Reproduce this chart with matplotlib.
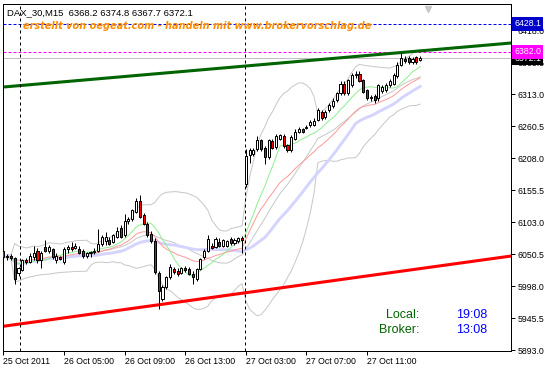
import numpy as np
import pandas as pd
import matplotlib
matplotlib.use("Agg")
import matplotlib.pyplot as plt
from matplotlib.transforms import blended_transform_factory

# DAX_30 M15 candles, 25 Oct 15:00 .. 27 Oct 13:00 (broker time)
opens = [6056, 6045, 6048, 6044, 6020, 6025, 6040, 6037, 6046, 6056,
         6040, 6062, 6056, 6058, 6040, 6045, 6038, 6058, 6062, 6060,
         6059, 6056, 6048, 6052, 6054, 6056, 6067, 6072, 6074, 6070,
         6078, 6094, 6081, 6105, 6108, 6120, 6138, 6114, 6100, 6083,
         6072, 6019, 5977, 5996, 6012, 6026, 6023, 6020, 6027, 6026,
         6018, 6010, 6026, 6045, 6056, 6064, 6062, 6070, 6064, 6064,
         6075, 6069, 6072, 6077,
         6166, 6213, 6215, 6223, 6237, 6225, 6210, 6236, 6226, 6240,
         6244, 6229, 6221, 6240, 6251, 6255, 6257, 6262, 6262, 6270,
         6284, 6275, 6286, 6293, 6303, 6314, 6330, 6314, 6328, 6344,
         6346, 6336, 6320, 6306, 6310, 6306, 6318, 6320, 6328, 6330,
         6342, 6361, 6370, 6372, 6365, 6373, 6368.2]
highs = [6060, 6050, 6050, 6046, 6030, 6043, 6044, 6052, 6064, 6060,
         6056, 6074, 6066, 6060, 6052, 6048, 6062, 6066, 6070, 6068,
         6064, 6058, 6054, 6056, 6060, 6092, 6082, 6086, 6078, 6084,
         6095, 6098, 6116, 6112, 6125, 6142, 6148, 6117, 6103, 6088,
         6076, 6022, 5999, 6014, 6034, 6030, 6027, 6030, 6031, 6029,
         6022, 6028, 6044, 6058, 6081, 6068, 6078, 6076, 6075, 6074,
         6078, 6077, 6078, 6080,
         6223, 6225, 6224, 6244, 6240, 6228, 6240, 6240, 6248, 6248,
         6247, 6231, 6245, 6256, 6259, 6258, 6262, 6270, 6273, 6290,
         6287, 6287, 6298, 6306, 6317, 6334, 6335, 6338, 6347, 6350,
         6350, 6338, 6322, 6312, 6313, 6330, 6328, 6331, 6337, 6347,
         6365, 6380, 6375, 6375, 6374, 6376, 6374.8]
lows = [6042, 6041, 6040, 6001, 6015, 6022, 6034, 6035, 6040, 6036,
        6027, 6054, 6052, 6042, 6036, 6040, 6034, 6052, 6055, 6058,
        6050, 6044, 6044, 6046, 6050, 6054, 6064, 6066, 6065, 6068,
        6076, 6076, 6078, 6100, 6104, 6117, 6109, 6098, 6079, 6068,
        6018, 5960, 5974, 5993, 6009, 6017, 6015, 6017, 6021, 6016,
        6001, 6006, 6024, 6043, 6054, 6058, 6060, 6062, 6062, 6062,
        6066, 6066, 6068, 6053,
        6160, 6200, 6212, 6220, 6220, 6199, 6207, 6222, 6222, 6237,
        6225, 6218, 6218, 6238, 6249, 6249, 6255, 6259, 6260, 6268,
        6270, 6272, 6283, 6290, 6300, 6311, 6311, 6312, 6325, 6340,
        6333, 6314, 6303, 6302, 6298, 6302, 6314, 6317, 6325, 6328,
        6340, 6359, 6364, 6362, 6363, 6363, 6367.7]
closes = [6045, 6048, 6044, 6010, 6027, 6040, 6037, 6048, 6052, 6040,
          6053, 6056, 6062, 6045, 6048, 6042, 6059, 6062, 6059, 6064,
          6053, 6048, 6052, 6054, 6056, 6067, 6078, 6078, 6067, 6081,
          6089, 6079, 6105, 6108, 6122, 6138, 6112, 6100, 6082, 6072,
          6021, 5990, 5996, 6012, 6030, 6021, 6018, 6028, 6024, 6018,
          6012, 6026, 6042, 6056, 6075, 6061, 6075, 6064, 6073, 6072,
          6069, 6073, 6076, 6073,
          6212, 6221, 6221, 6237, 6223, 6210, 6237, 6225, 6244, 6245,
          6227, 6221, 6242, 6251, 6256, 6251, 6259, 6267, 6269, 6286,
          6273, 6284, 6295, 6302, 6314, 6330, 6314, 6336, 6344, 6346,
          6335, 6317, 6306, 6308, 6304, 6327, 6325, 6328, 6334, 6344,
          6361, 6372, 6368, 6365, 6371, 6365, 6372.1]

time_ticks = [0, 16, 32, 48, 64, 80, 96]
time_labels = ["25 Oct 2011", "26 Oct 05:00", "26 Oct 09:00", "26 Oct 13:00",
               "27 Oct 03:00", "27 Oct 07:00", "27 Oct 11:00"]
day_breaks = [4.4, 63.75]
price_ticks = [5893.0, 5945.5, 5998.0, 6050.5, 6103.0, 6155.5, 6208.0,
               6260.5, 6313.0, 6365.5, 6418.0]

# trend lines (bar, price)
green_trend = ([0, 134], [6324.5, 6396.7])
red_trend = ([0, 134], [5932.0, 6047.2])
blue_level = 6428.1
magenta_level = 6382.0
bid = 6372.1
shift_bar = 112

o = np.array(opens, float)
h = np.array(highs, float)
l = np.array(lows, float)
c = np.array(closes, float)
x = np.arange(len(c))

s = pd.Series(c)
ma_fast = s.rolling(10, min_periods=1).mean()
ma_mid = s.ewm(span=20, adjust=False).mean()
ma_slow = s.rolling(30, min_periods=1).mean()
bb_mid = s.rolling(20, min_periods=1).mean()
bb_std = s.rolling(20, min_periods=2).std(ddof=0)
bb_up = bb_mid + 2 * bb_std
bb_lo = bb_mid - 2 * bb_std

fig = plt.figure(figsize=(5.52, 3.72), dpi=100)
ax = fig.add_axes([3 / 552, 21 / 372, 508 / 552, 347 / 372])
ax.set_xlim(-0.1, 134)
ax.set_ylim(5891.4, 6460.7)

px = 0.72
# indicators
ax.plot(x, bb_up, color="#c8c8c8", lw=px, zorder=1)
ax.plot(x, bb_lo, color="#c8c8c8", lw=px, zorder=1)
ax.plot(x, bb_mid, color="#c8c8c8", lw=px, zorder=1)
ax.plot(x, ma_slow, color="#d4d4ff", lw=2.1, zorder=1)
ax.plot(x, ma_mid, color="#ff9a9a", lw=px, zorder=1.5)
ax.plot(x, ma_fast, color="#90ee90", lw=px, zorder=1.5)

# levels and trend lines
ax.axhline(blue_level, color="#0000ff", lw=px, ls=(0, (3, 2)), zorder=2)
ax.axhline(magenta_level, color="#ff00ff", lw=px, ls=(0, (3, 2)), zorder=2)
ax.axhline(bid, color="#c0c0c0", lw=px, zorder=2)
ax.plot(*green_trend, color="#006400", lw=2.2, zorder=2)
ax.plot(*red_trend, color="#ff0000", lw=2.2, zorder=2)
for d in day_breaks:
    ax.axvline(d, color="black", lw=px, ls=(0, (3, 3)), zorder=2)

# candles
up = c >= o
ax.vlines(x, l, h, color="black", lw=px, zorder=3)
ax.bar(x, np.maximum(np.abs(c - o), 0.6), bottom=np.minimum(o, c), width=0.55,
       color=np.where(up, "white", "red"), edgecolor="black", linewidth=px, zorder=4)

# axes styling
for sp in ax.spines.values():
    sp.set_linewidth(px)
ax.yaxis.tick_right()
ax.set_yticks(price_ticks)
ax.set_yticklabels([f"{p:.1f}" for p in price_ticks])
ax.set_xticks(time_ticks)
ax.set_xticklabels(time_labels, ha="left")
ax.tick_params(axis="both", length=3, width=px, labelsize=6.3, pad=1.5, direction="out")
for t in ax.get_xticklabels() + ax.get_yticklabels():
    t.set_fontfamily("Liberation Sans")

# price tags on the axis
tr = blended_transform_factory(ax.transAxes, ax.transData)
for val, col in [(bid, "black"), (magenta_level, "#ff00ff"), (blue_level, "#0000cd")]:
    ax.text(1.006, val, f"{val:.1f}", transform=tr, ha="left", va="center",
            fontsize=6.3, family="Liberation Sans", color="white", clip_on=False,
            zorder=10, bbox=dict(boxstyle="square,pad=0.25", fc=col, ec="none"))

# chart shift marker
ax.plot([shift_bar], [0.985], transform=blended_transform_factory(ax.transData, ax.transAxes),
        marker="v", color="#c8c8c8", ms=5, clip_on=False, zorder=6)

ax.text(0.008, 0.988, "DAX_30,M15  6368.2 6374.8 6367.7 6372.1", transform=ax.transAxes,
        ha="left", va="top", fontsize=6.8, family="Liberation Sans", color="black")
ax.text(0.039, 0.952, "erstellt von oegeat.com - handeln mit www.brokervorschlag.de",
        transform=ax.transAxes, ha="left", va="top", fontsize=7, color="#ff8c00",
        fontweight="bold", fontstyle="italic", family="DejaVu Sans")

ax.text(0.82, 0.104, "Local:", transform=ax.transAxes, ha="right", va="center",
        fontsize=9, family="Liberation Sans", color="#006400")
ax.text(0.82, 0.061, "Broker:", transform=ax.transAxes, ha="right", va="center",
        fontsize=9, family="Liberation Sans", color="#006400")
ax.text(0.892, 0.104, "19:08", transform=ax.transAxes, ha="left", va="center",
        fontsize=9, family="Liberation Sans", color="#0000ff")
ax.text(0.892, 0.061, "13:08", transform=ax.transAxes, ha="left", va="center",
        fontsize=9, family="Liberation Sans", color="#0000ff")

fig.savefig("out.png", dpi=100)
